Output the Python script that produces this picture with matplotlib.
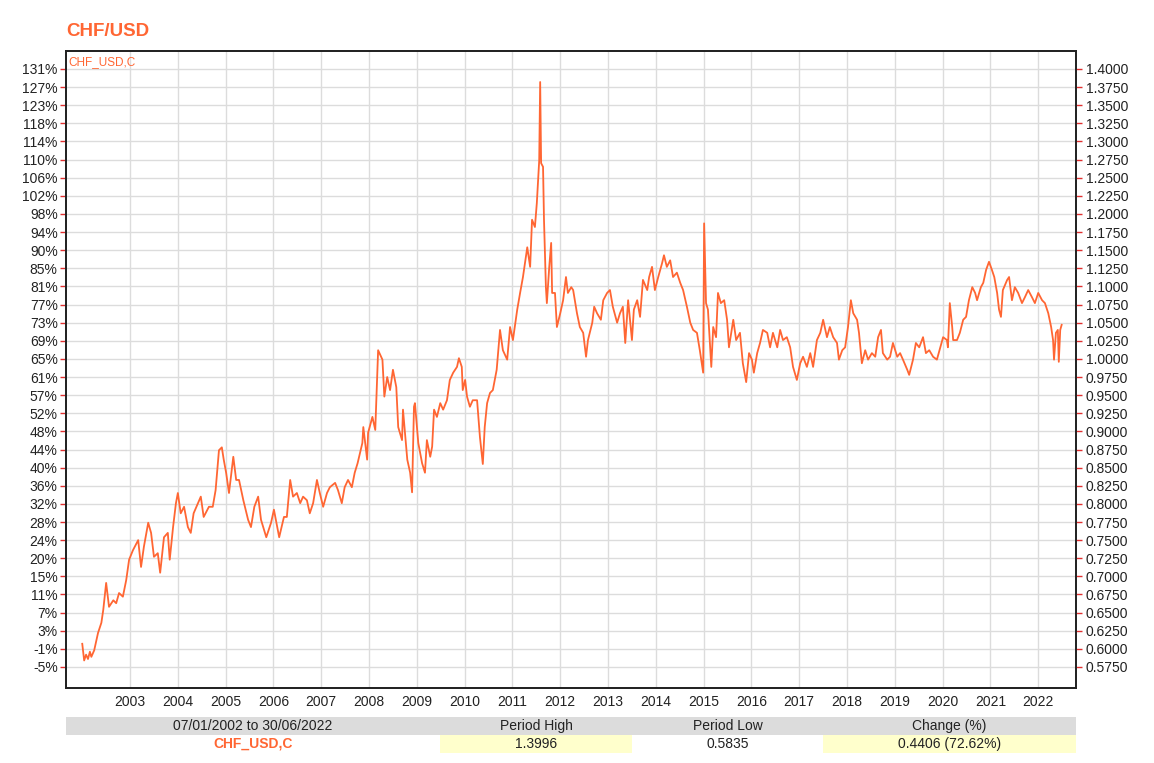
import numpy as np
import matplotlib.pyplot as plt
from matplotlib.patches import Rectangle
from matplotlib.ticker import FuncFormatter

plt.rcParams['font.family'] = ['Liberation Sans', 'DejaVu Sans']

orange = '#ff6633'
base_rate = 0.60665   # close on 07/01/2002, used for the % axis

# decimal year / CHF-USD close
years = [
    2002.00, 2002.04, 2002.08, 2002.12, 2002.16, 2002.19, 2002.25, 2002.33, 2002.40, 2002.44,
    2002.50, 2002.56, 2002.65, 2002.71, 2002.77, 2002.85, 2002.92, 2002.98,
    2003.06, 2003.17, 2003.23, 2003.29, 2003.38, 2003.44, 2003.50, 2003.58, 2003.63, 2003.71,
    2003.79, 2003.83, 2003.90, 2003.96,
    2004.00, 2004.06, 2004.13, 2004.21, 2004.27, 2004.33, 2004.42, 2004.48, 2004.54, 2004.65,
    2004.73, 2004.79, 2004.86, 2004.92, 2004.96,
    2005.01, 2005.07, 2005.16, 2005.22, 2005.28, 2005.37, 2005.47, 2005.53, 2005.60, 2005.68,
    2005.74, 2005.85, 2005.95,
    2006.01, 2006.12, 2006.22, 2006.28, 2006.35, 2006.41, 2006.49, 2006.56, 2006.62, 2006.70,
    2006.76, 2006.83, 2006.91, 2006.97,
    2007.04, 2007.12, 2007.18, 2007.29, 2007.35, 2007.43, 2007.49, 2007.56, 2007.64, 2007.70,
    2007.76, 2007.86, 2007.88, 2007.96, 2007.98,
    2008.07, 2008.13, 2008.17, 2008.19, 2008.28, 2008.32, 2008.38, 2008.44, 2008.50, 2008.57,
    2008.61, 2008.69, 2008.71, 2008.80, 2008.86, 2008.90, 2008.94, 2008.96,
    2009.03, 2009.11, 2009.17, 2009.21, 2009.28, 2009.32, 2009.36, 2009.42, 2009.49, 2009.55,
    2009.63, 2009.69, 2009.76, 2009.84, 2009.88, 2009.94, 2009.96,
    2010.01, 2010.05, 2010.11, 2010.17, 2010.26, 2010.32, 2010.38, 2010.42, 2010.47, 2010.53,
    2010.59, 2010.67, 2010.74, 2010.80, 2010.89, 2010.95,
    2011.01, 2011.10, 2011.16, 2011.22, 2011.31, 2011.37, 2011.41, 2011.47, 2011.51, 2011.56,
    2011.58, 2011.60, 2011.64, 2011.66, 2011.70, 2011.72, 2011.77, 2011.81, 2011.83, 2011.89,
    2011.93,
    2012.00, 2012.06, 2012.12, 2012.16, 2012.23, 2012.27, 2012.35, 2012.41, 2012.48, 2012.54,
    2012.58, 2012.67, 2012.71, 2012.77, 2012.85, 2012.90, 2012.98,
    2013.04, 2013.10, 2013.19, 2013.25, 2013.31, 2013.36, 2013.42, 2013.50, 2013.54, 2013.61,
    2013.67, 2013.73, 2013.82, 2013.86, 2013.92, 2013.98,
    2014.05, 2014.13, 2014.17, 2014.23, 2014.30, 2014.36, 2014.44, 2014.51, 2014.57, 2014.65,
    2014.72, 2014.78, 2014.86, 2014.92, 2014.99,
    2015.01, 2015.05, 2015.09, 2015.16, 2015.20, 2015.26, 2015.30, 2015.36, 2015.43, 2015.49,
    2015.53, 2015.62, 2015.68, 2015.76, 2015.82, 2015.89, 2015.95,
    2016.01, 2016.05, 2016.12, 2016.18, 2016.24, 2016.33, 2016.39, 2016.45, 2016.54, 2016.60,
    2016.66, 2016.74, 2016.81, 2016.87, 2016.95,
    2017.02, 2017.08, 2017.16, 2017.23, 2017.29, 2017.37, 2017.44, 2017.50, 2017.58, 2017.64,
    2017.71, 2017.79, 2017.83, 2017.90, 2017.96,
    2018.02, 2018.08, 2018.13, 2018.21, 2018.25, 2018.31, 2018.38, 2018.44, 2018.52, 2018.59,
    2018.65, 2018.71, 2018.75, 2018.84, 2018.90, 2018.96,
    2019.05, 2019.11, 2019.17, 2019.26, 2019.30, 2019.38, 2019.44, 2019.51, 2019.59, 2019.65,
    2019.72, 2019.80, 2019.88, 2019.95,
    2020.01, 2020.09, 2020.11, 2020.15, 2020.20, 2020.22, 2020.30, 2020.36, 2020.43, 2020.49,
    2020.55, 2020.62, 2020.68, 2020.72, 2020.80, 2020.85, 2020.91, 2020.97,
    2021.03, 2021.08, 2021.14, 2021.18, 2021.22, 2021.26, 2021.35, 2021.39, 2021.45, 2021.51,
    2021.58, 2021.66, 2021.72, 2021.79, 2021.87, 2021.93,
    2022.00, 2022.08, 2022.14, 2022.21, 2022.27, 2022.31, 2022.33, 2022.37, 2022.41, 2022.43,
    2022.46, 2022.49,
]
rates = [
    0.607, 0.584, 0.592, 0.586, 0.596, 0.589, 0.598, 0.622, 0.636, 0.654,
    0.691, 0.658, 0.667, 0.663, 0.677, 0.672, 0.695, 0.723,
    0.736, 0.750, 0.713, 0.741, 0.774, 0.760, 0.727, 0.732, 0.705, 0.754,
    0.760, 0.723, 0.768, 0.801,
    0.815, 0.787, 0.796, 0.768, 0.760, 0.787, 0.801, 0.810, 0.782, 0.796,
    0.796, 0.819, 0.874, 0.878, 0.861,
    0.843, 0.815, 0.865, 0.833, 0.833, 0.805, 0.778, 0.768, 0.796, 0.810,
    0.778, 0.754, 0.774,
    0.792, 0.754, 0.782, 0.782, 0.833, 0.810, 0.815, 0.801, 0.810, 0.805,
    0.787, 0.801, 0.833, 0.815,
    0.796, 0.815, 0.823, 0.829, 0.819, 0.801, 0.823, 0.833, 0.823, 0.843,
    0.856, 0.884, 0.906, 0.861, 0.898,
    0.920, 0.902, 0.975, 1.012, 0.999, 0.948, 0.975, 0.957, 0.985, 0.961,
    0.906, 0.888, 0.930, 0.861, 0.843, 0.816, 0.934, 0.939,
    0.884, 0.856, 0.843, 0.888, 0.865, 0.879, 0.930, 0.920, 0.939, 0.930,
    0.943, 0.971, 0.981, 0.989, 1.001, 0.989, 0.957,
    0.971, 0.948, 0.934, 0.943, 0.943, 0.892, 0.855, 0.906, 0.939, 0.953,
    0.957, 0.985, 1.040, 1.012, 0.999, 1.044,
    1.026, 1.068, 1.091, 1.113, 1.154, 1.127, 1.192, 1.182, 1.215, 1.274,
    1.382, 1.270, 1.265, 1.192, 1.099, 1.077, 1.127, 1.160, 1.091, 1.091,
    1.044,
    1.063, 1.081, 1.113, 1.091, 1.099, 1.095, 1.063, 1.044, 1.036, 1.003,
    1.026, 1.050, 1.072, 1.063, 1.054, 1.081, 1.091,
    1.095, 1.072, 1.050, 1.063, 1.072, 1.022, 1.081, 1.026, 1.068, 1.081,
    1.058, 1.109, 1.095, 1.113, 1.127, 1.095,
    1.113, 1.132, 1.143, 1.127, 1.136, 1.113, 1.119, 1.105, 1.095, 1.072,
    1.050, 1.040, 1.036, 1.012, 0.981,
    1.187, 1.077, 1.068, 0.989, 1.044, 1.030, 1.091, 1.077, 1.081, 1.054,
    1.016, 1.054, 1.026, 1.036, 0.994, 0.968, 1.008,
    0.999, 0.981, 1.008, 1.022, 1.040, 1.036, 1.016, 1.036, 1.016, 1.040,
    1.026, 1.030, 1.016, 0.989, 0.971,
    0.994, 1.003, 0.989, 1.008, 0.989, 1.026, 1.036, 1.054, 1.030, 1.044,
    1.030, 1.022, 0.999, 1.012, 1.016,
    1.044, 1.081, 1.063, 1.054, 1.036, 0.994, 1.012, 0.999, 1.008, 1.003,
    1.030, 1.040, 1.008, 0.999, 1.003, 1.022,
    1.003, 1.008, 0.999, 0.985, 0.978, 0.999, 1.022, 1.016, 1.030, 1.008,
    1.012, 1.003, 0.999, 1.016,
    1.030, 1.026, 1.016, 1.077, 1.044, 1.026, 1.026, 1.036, 1.054, 1.058,
    1.081, 1.099, 1.091, 1.081, 1.099, 1.105, 1.123, 1.134,
    1.123, 1.113, 1.091, 1.068, 1.058, 1.095, 1.109, 1.113, 1.081, 1.099,
    1.091, 1.077, 1.085, 1.095, 1.085, 1.077,
    1.091, 1.081, 1.077, 1.063, 1.044, 1.026, 0.999, 1.036, 1.040, 0.996,
    1.040, 1.047,
]

year_ticks = list(range(2003, 2023))
rate_ticks = np.arange(0.575, 1.4001, 0.025)

table_head = ['07/01/2002 to 30/06/2022', 'Period High', 'Period Low', 'Change (%)']
table_vals = ['CHF_USD,C', '1.3996', '0.5835', '0.4406 (72.62%)']

W, H = 1154, 763
fig = plt.figure(figsize=(W / 100, H / 100), dpi=100)
ax = fig.add_axes([66 / W, 1 - 688 / H, 1010 / W, 637 / H])

ax.plot(years, rates, color=orange, lw=1.3, zorder=3)
ax.set_xlim(2001.66, 2022.79)
ax.set_ylim(0.546, 1.4248)

ax.set_xticks(year_ticks)
ax.set_xticklabels([str(y) for y in year_ticks])
ax.set_yticks(rate_ticks)
ax.yaxis.set_major_formatter(FuncFormatter(lambda v, p: f"{(v / base_rate - 1) * 100:.0f}%"))
ax.grid(True, color='#dcdcdc', lw=1)
ax.set_axisbelow(True)
ax.tick_params(axis='x', length=0, pad=5, labelsize=10, labelcolor='#222222')
ax.tick_params(axis='y', length=4, width=1, color='#e03030', pad=2,
               labelsize=10, labelcolor='#222222')

ax2 = ax.twinx()
ax2.set_ylim(ax.get_ylim())
ax2.set_yticks(rate_ticks)
ax2.yaxis.set_major_formatter(FuncFormatter(lambda v, p: f"{v:.4f}"))
ax2.tick_params(axis='y', length=4, width=1, color='#e03030', pad=3,
                labelsize=10, labelcolor='#222222')

for a in (ax, ax2):
    for s in a.spines.values():
        s.set_color('#222222')
        s.set_linewidth(1.3)

fig.text(66 / W, 1 - 31 / H, 'CHF/USD', fontsize=13.5, weight='bold',
         color=orange, va='center', ha='left')
ax.text(0.002, 0.992, 'CHF_USD,C', transform=ax.transAxes, fontsize=8.5,
        color=orange, va='top', ha='left')

# summary table under the chart
tab = fig.add_axes([66 / W, 1 - 753 / H, 1010 / W, 36 / H])
tab.set_xlim(0, 1010)
tab.set_ylim(0, 2)
tab.axis('off')
col_edges = [0, 374, 566, 757, 1010]
tab.add_patch(Rectangle((0, 1), 1010, 1, color='#dcdcdc', lw=0))
for i in (1, 3):
    tab.add_patch(Rectangle((col_edges[i], 0), col_edges[i + 1] - col_edges[i], 1,
                            color='#ffffcc', lw=0))
for i in range(4):
    cx = (col_edges[i] + col_edges[i + 1]) / 2
    tab.text(cx, 1.5, table_head[i], ha='center', va='center', fontsize=10, color='#222222')
    if i == 0:
        tab.text(cx, 0.5, table_vals[i], ha='center', va='center', fontsize=10,
                 color=orange, weight='bold')
    else:
        tab.text(cx, 0.5, table_vals[i], ha='center', va='center', fontsize=10, color='#222222')

fig.savefig('out.png', dpi=100)
